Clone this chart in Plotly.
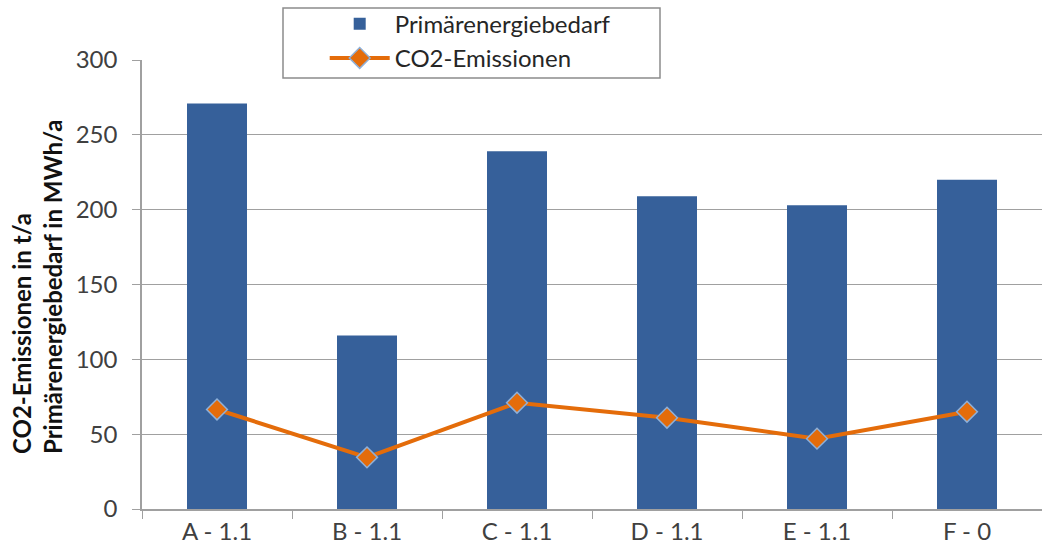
import plotly.graph_objects as go

categories = ["A - 1.1", "B - 1.1", "C - 1.1", "D - 1.1", "E - 1.1", "F - 0"]
primaerenergie = [271, 116, 239, 209, 203, 220]
co2 = [66.5, 34.5, 71, 61, 47, 65]
y_ticks = [0, 50, 100, 150, 200, 250, 300]
y_title_lines = ["CO2-Emissionen in t/a", "Primärenergiebedarf in MWh/a"]

font_family = "Lato, 'Open Sans', sans-serif"

fig = go.Figure()
fig.add_trace(go.Bar(
    x=categories, y=primaerenergie, name="Primärenergiebedarf",
    marker=dict(color="#36609A", line=dict(width=0)), width=0.4,
))
fig.add_trace(go.Scatter(
    x=categories, y=co2, name="CO2-Emissionen", mode="lines+markers",
    line=dict(color="#E46C0A", width=4),
    marker=dict(symbol="diamond", size=16, color="#E46C0A",
                line=dict(color="#8FB0D8", width=1.5)),
))

fig.update_layout(
    width=1042, height=558,
    margin=dict(l=142, r=0, t=60, b=49),
    paper_bgcolor="white", plot_bgcolor="white",
    font=dict(family=font_family, size=23, color="#404040"),
    showlegend=True,
    legend=dict(
        x=0.203, y=1.13, xanchor="left", yanchor="top",
        bgcolor="rgba(0,0,0,0)", borderwidth=0,
        font=dict(size=24, color="#262626"),
        tracegroupgap=0, itemwidth=60,
    ),
    shapes=[dict(
        type="rect", xref="paper", yref="paper",
        x0=(283 - 142) / 900, x1=(660 - 142) / 900,
        y0=(509 - 78) / 449, y1=(509 - 8) / 449,
        line=dict(color="#8C8C8C", width=1.5), fillcolor="white", layer="below",
    )],
    annotations=[dict(
        text="<b>" + "<br>".join(y_title_lines) + "</b>",
        xref="paper", yref="paper",
        x=(37 - 142) / 900, y=(509 - 456) / 449,
        xanchor="center", yanchor="bottom",
        textangle=-90, align="left", showarrow=False,
        font=dict(size=24, color="#111111", family=font_family),
    )],
)
fig.update_xaxes(
    showline=True, linecolor="#A0A0A0", linewidth=1.5,
    ticks="outside", tickson="boundaries", ticklen=8, tickcolor="#A0A0A0",
    showgrid=False, tickfont=dict(size=24, color="#404040"),
    range=[-0.5, 5.5], automargin=False,
)
fig.update_yaxes(
    range=[0, 300], tickvals=y_ticks,
    showline=True, linecolor="#A0A0A0", linewidth=1.5,
    ticks="outside", ticklen=8, tickcolor="#A0A0A0", ticklabelstandoff=10,
    showgrid=True, gridcolor="#A0A0A0", gridwidth=1,
    tickfont=dict(size=24, color="#404040"),
    zeroline=False, automargin=False,
)

fig.write_html("out.html", config={"displayModeBar": False},
               post_script="document.body.style.margin='0';")
